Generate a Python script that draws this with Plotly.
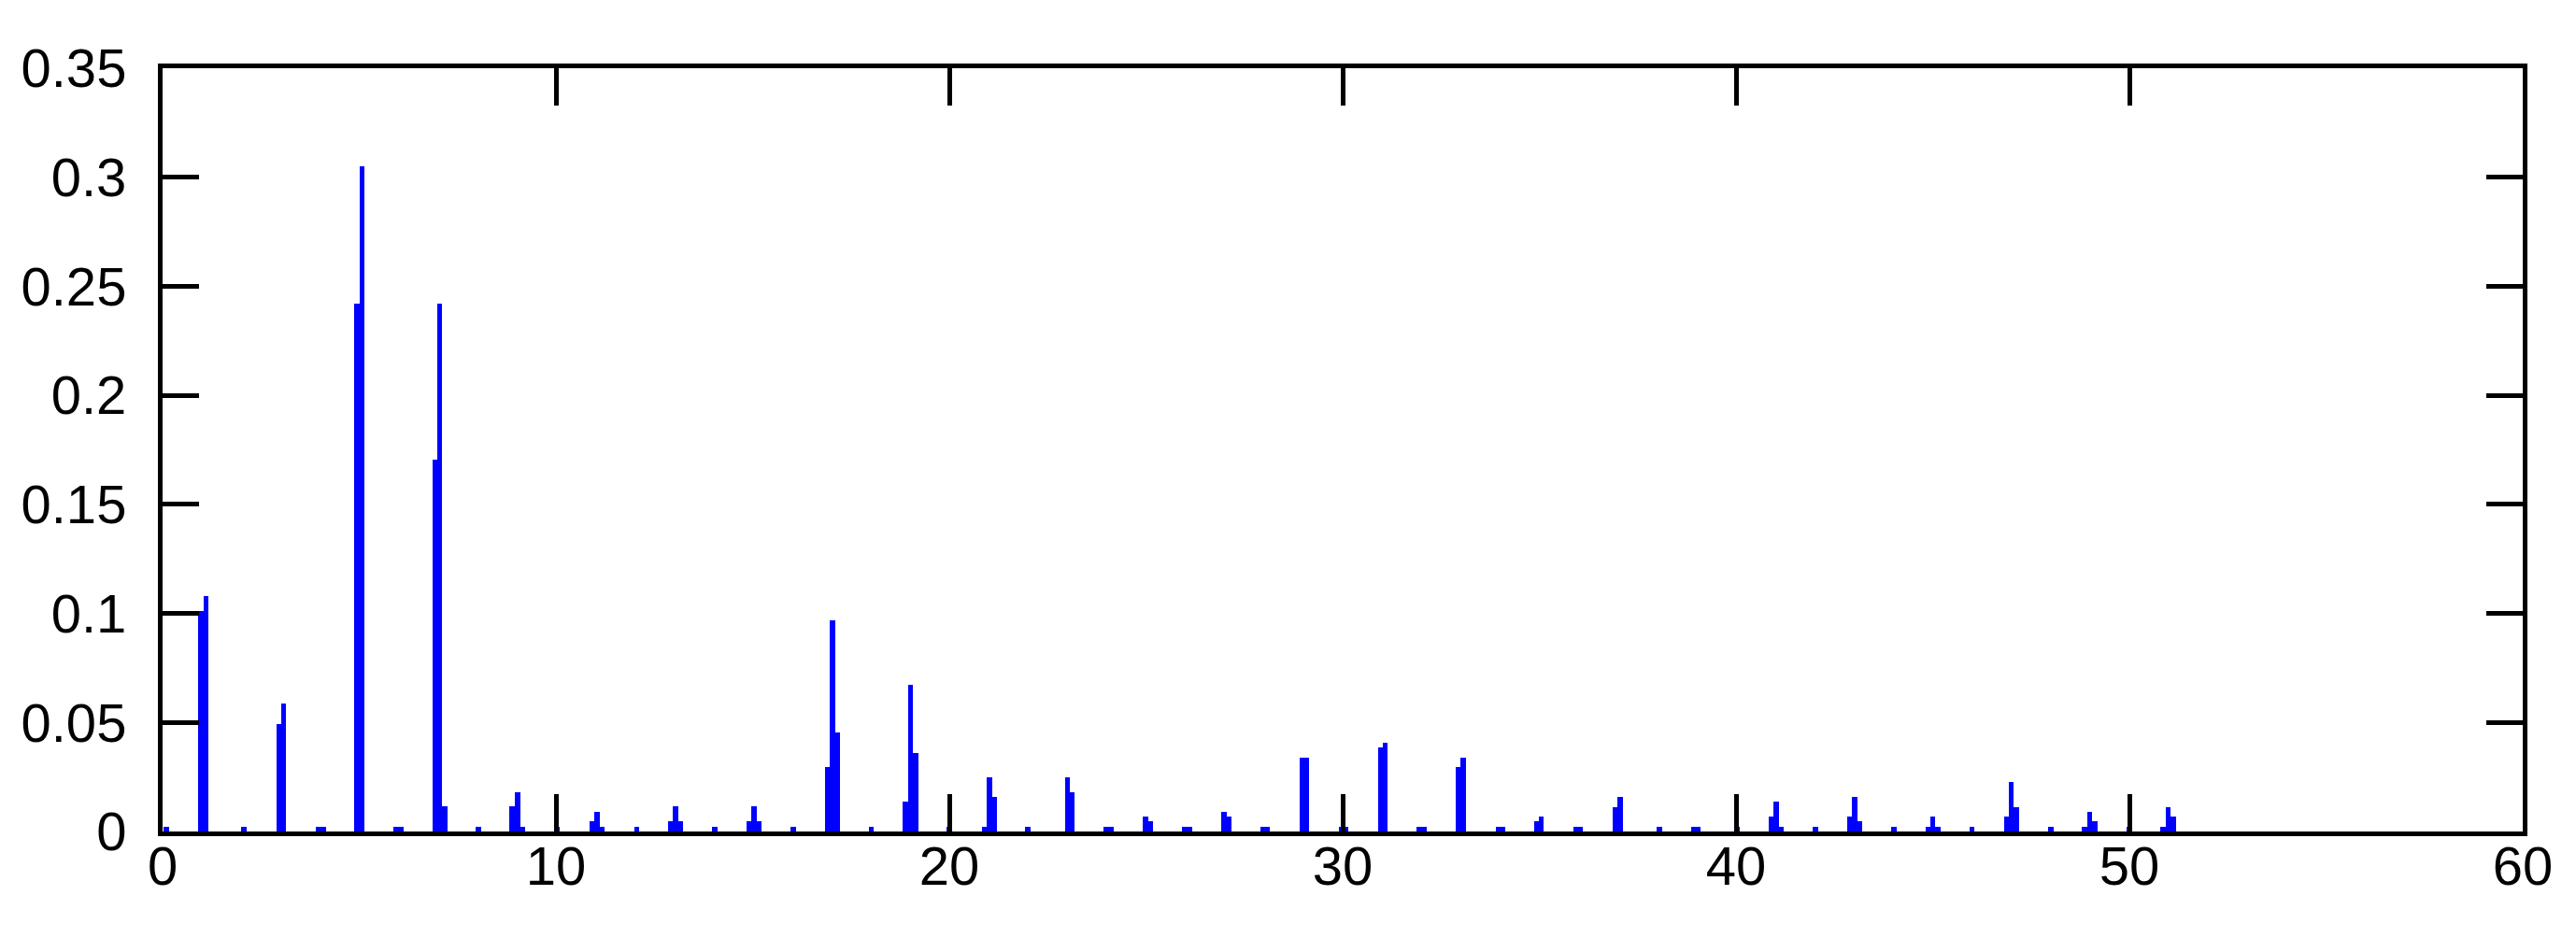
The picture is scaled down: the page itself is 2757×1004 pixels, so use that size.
import plotly.graph_objects as go

# Bin frequencies (harmonic order) and amplitudes
freq = [0.10, 0.98, 1.10, 2.06, 2.96, 3.08, 3.96, 4.08, 4.94, 5.07,
        5.94, 6.06, 6.92, 7.04, 7.17, 8.03, 8.89, 9.02, 9.15, 10.02,
        10.93, 11.05, 11.17, 12.05, 12.92, 13.04, 13.16, 14.04, 14.91, 15.03,
        15.15, 16.03, 16.91, 17.03, 17.15, 18.02, 18.89, 19.01, 19.14, 20.00,
        20.89, 21.02, 21.14, 22.00, 23.00, 23.12, 23.99, 24.11, 24.99, 25.11,
        25.99, 26.11, 26.98, 27.10, 27.97, 28.09, 28.97, 29.09, 29.96, 30.08,
        30.96, 31.08, 31.95, 32.07, 32.95, 33.07, 33.95, 34.07, 34.93, 35.05,
        35.93, 36.05, 36.93, 37.05, 38.05, 38.92, 39.04, 40.03, 40.90, 41.02,
        41.15, 42.02, 42.89, 43.01, 43.14, 44.01, 44.88, 45.00, 45.13, 46.00,
        46.88, 47.00, 47.13, 48.00, 48.86, 48.99, 49.12, 49.99, 50.86, 50.99,
        51.11]
amp = [0.0023, 0.101, 0.108, 0.0023, 0.0494, 0.0587, 0.0023, 0.0023, 0.242, 0.305,
       0.0023, 0.0023, 0.1705, 0.242, 0.0116, 0.0023, 0.0116, 0.018, 0.0023, 0.0023,
       0.0046, 0.0088, 0.0023, 0.0023, 0.0046, 0.0114, 0.0046, 0.0023, 0.0046, 0.0114,
       0.0046, 0.0023, 0.0295, 0.0967, 0.0452, 0.0023, 0.0137, 0.0673, 0.0362, 0.0023,
       0.0023, 0.0250, 0.0159, 0.0023, 0.0248, 0.018, 0.0023, 0.0023, 0.0069, 0.0046,
       0.0023, 0.0023, 0.009, 0.0069, 0.0023, 0.0023, 0.0338, 0.0338, 0.0023, 0.0023,
       0.0384, 0.0406, 0.0023, 0.0023, 0.0294, 0.0338, 0.0023, 0.0023, 0.0046, 0.0069,
       0.0023, 0.0023, 0.0113, 0.0159, 0.0023, 0.0023, 0.0023, 0.0023, 0.0069, 0.0136,
       0.0023, 0.0023, 0.0069, 0.0159, 0.0046, 0.0023, 0.0023, 0.0069, 0.0023, 0.0023,
       0.0069, 0.0227, 0.0113, 0.0023, 0.0023, 0.009, 0.0046, 0.0023, 0.0023, 0.0113,
       0.0069]

x_ticks = [0, 10, 20, 30, 40, 50, 60]
y_ticks = [0, 0.05, 0.1, 0.15, 0.2, 0.25, 0.3, 0.35]
y_tick_labels = ["0", "0.05", "0.1", "0.15", "0.2", "0.25", "0.3", "0.35"]

fig = go.Figure()
fig.add_trace(go.Bar(
    x=freq, y=amp, width=0.132,
    marker=dict(color="#0000ff", line=dict(width=0)),
    showlegend=False, hoverinfo="x+y",
))

font = dict(family="Liberation Sans, Arial, sans-serif", size=58, color="#000000")

fig.update_layout(
    width=2757, height=1004,
    margin=dict(l=166, r=65, t=65, b=122, pad=0),
    paper_bgcolor="white", plot_bgcolor="white",
    bargap=0,
    font=font,
)
fig.update_xaxes(
    range=[0, 60], tickmode="array", tickvals=x_ticks,
    ticks="inside", ticklen=40, tickwidth=5, tickcolor="black",
    showline=True, linewidth=5, linecolor="black", mirror="ticks",
    showgrid=False, zeroline=False, tickfont=font, ticklabelstandoff=-18,
)
fig.update_yaxes(
    range=[0, 0.35], tickmode="array", tickvals=y_ticks, ticktext=y_tick_labels,
    ticks="inside", ticklen=39, tickwidth=5, tickcolor="black",
    showline=True, linewidth=5, linecolor="black", mirror="ticks",
    showgrid=False, zeroline=False, tickfont=font, ticklabelstandoff=22,
)

fig.write_html("out.html")
